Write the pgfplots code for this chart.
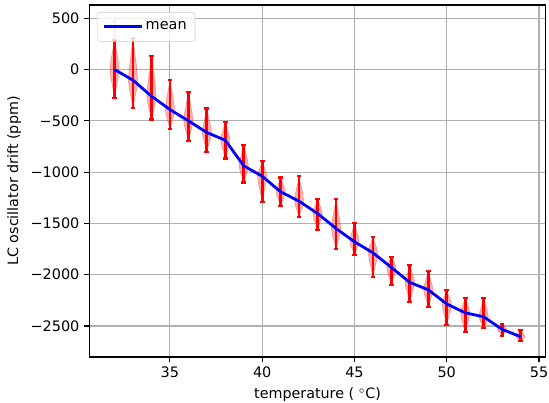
\documentclass[border=0pt]{standalone}
\usepackage{pgfplots}
\pgfplotsset{compat=1.18}
\usepackage{fontspec}
\setmainfont{DejaVu Sans}
\begin{document}
\begin{tikzpicture}
\begin{axis}[
  scale only axis, width=328.8pt, height=253.4pt,
  xmin=30.625, xmax=55.375, ymin=-2802, ymax=629,
  xtick={35,40,45,50,55},
  ytick={-2500,-2000,-1500,-1000,-500,0,500},
  yticklabels={−2500,−2000,−1500,−1000,−500,0,500},
  tick pos=left, tick align=outside, major tick length=3.5pt,
  every tick/.style={black, line width=0.8pt},
  axis line style={line width=0.8pt},
  grid=major, grid style={color=black!31, line width=0.8pt},
  xlabel={temperature (\,\,$^\circ$C)},
  ylabel={LC oscillator drift (ppm)},
  tick label style={font=\fontsize{10.4}{12}\selectfont},
  label style={font=\fontsize{10.3}{12}\selectfont},
  /pgf/number format/assume math mode=true,
  unbounded coords=jump,
  legend style={at={(0,1)}, xshift=5.5pt, yshift=-5pt, anchor=north west,
    draw=black!20, rounded corners=2pt, fill=white, fill opacity=0.8, text opacity=1,
    font=\fontsize{10.4}{12}\selectfont, inner xsep=4pt, inner ysep=4.8pt},
  legend image code/.code={\draw[#1] (0pt,0pt) -- (21pt,0pt); \path (0pt,0pt) -- (27pt,0pt);},
]
\foreach \T/\lo/\hi/\m in {32/-273/292/0, 33/-374/310/-104, 34/-487/133/-260, 35/-584/-104/-390,
  36/-695/-220/-500, 37/-802/-380/-614, 38/-867/-510/-689, 39/-1101/-737/-939,
  40/-1287/-895/-1040, 41/-1328/-1052/-1192, 42/-1435/-1042/-1283, 43/-1565/-1266/-1403,
  44/-1753/-1263/-1549, 45/-1809/-1494/-1679, 46/-2026/-1630/-1786, 47/-2101/-1825/-1929,
  48/-2264/-1906/-2075, 49/-2312/-1963/-2147, 50/-2488/-2150/-2285, 51/-2562/-2228/-2371,
  52/-2523/-2225/-2410, 53/-2595/-2484/-2532, 54/-2646/-2542/-2604}{
  \pgfmathsetmacro\up{\hi-\m}
  \pgfmathsetmacro\dn{\m-\lo}
  \pgfmathsetmacro\xa{\T+0.01}\pgfmathsetmacro\xA{\T-0.01}
  \pgfmathsetmacro\xb{\T+0.04}\pgfmathsetmacro\xB{\T-0.04}
  \pgfmathsetmacro\xc{\T+0.11}\pgfmathsetmacro\xC{\T-0.11}
  \pgfmathsetmacro\xd{\T+0.2}\pgfmathsetmacro\xD{\T-0.2}
  \pgfmathsetmacro\xe{\T+0.25}\pgfmathsetmacro\xE{\T-0.25}
  \pgfmathsetmacro\yb{\m+0.85*\up}
  \pgfmathsetmacro\yc{\m+0.6*\up}
  \pgfmathsetmacro\yd{\m+0.3*\up}
  \pgfmathsetmacro\yf{\m-0.3*\dn}
  \pgfmathsetmacro\yg{\m-0.6*\dn}
  \pgfmathsetmacro\yh{\m-0.85*\dn}
  \edef\tmp{\noexpand\addplot[fill=red, fill opacity=0.3, draw=red, draw opacity=0.3, line width=0.5pt, forget plot]
    coordinates {(\xa,\hi) (\xb,\yb) (\xc,\yc) (\xd,\yd) (\xe,\m) (\xd,\yf) (\xc,\yg) (\xb,\yh) (\xa,\lo)
    (\xA,\lo) (\xB,\yh) (\xC,\yg) (\xD,\yf) (\xE,\m) (\xD,\yd) (\xC,\yc) (\xB,\yb) (\xA,\hi)} -- cycle;}
  \tmp
}
\addplot[red, opacity=0.3, line width=2pt, mark=-, mark size=1.7pt, mark indices={2},
  mark options={line width=1.5pt, solid}, forget plot] coordinates {(32,292) (32,473)};
\addplot[red, line width=2pt, mark=-, mark size=1.7pt, mark options={line width=1.5pt, solid}, forget plot]
coordinates {
(32,-273) (32,292) (32,nan)
(33,-374) (33,310) (33,nan)
(34,-487) (34,133) (34,nan)
(35,-584) (35,-104) (35,nan)
(36,-695) (36,-220) (36,nan)
(37,-802) (37,-380) (37,nan)
(38,-867) (38,-510) (38,nan)
(39,-1101) (39,-737) (39,nan)
(40,-1287) (40,-895) (40,nan)
(41,-1328) (41,-1052) (41,nan)
(42,-1435) (42,-1042) (42,nan)
(43,-1565) (43,-1266) (43,nan)
(44,-1753) (44,-1263) (44,nan)
(45,-1809) (45,-1494) (45,nan)
(46,-2026) (46,-1630) (46,nan)
(47,-2101) (47,-1825) (47,nan)
(48,-2264) (48,-1906) (48,nan)
(49,-2312) (49,-1963) (49,nan)
(50,-2488) (50,-2150) (50,nan)
(51,-2562) (51,-2228) (51,nan)
(52,-2523) (52,-2225) (52,nan)
(53,-2595) (53,-2484) (53,nan)
(54,-2646) (54,-2542)
};
\addplot[blue, line width=2pt] coordinates {
(32,0) (33,-104) (34,-260) (35,-390) (36,-500) (37,-614) (38,-689) (39,-939)
(40,-1040) (41,-1192) (42,-1283) (43,-1403) (44,-1549) (45,-1679) (46,-1786)
(47,-1929) (48,-2075) (49,-2147) (50,-2285) (51,-2371) (52,-2410) (53,-2532) (54,-2604)
};
\addlegendentry{mean}
\end{axis}
\pgfresetboundingbox
\path[use as bounding box] ([shift={(-64.2pt,-32.4pt)}]current axis.south west) rectangle ([shift={(2.2pt,3.6pt)}]current axis.north east);
\end{tikzpicture}
\end{document}
